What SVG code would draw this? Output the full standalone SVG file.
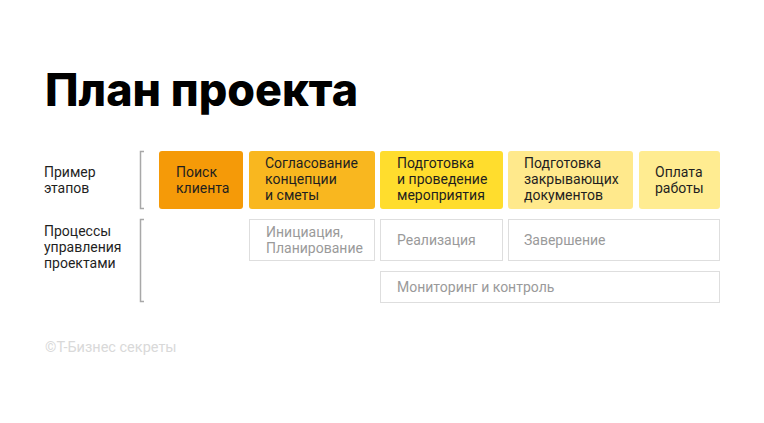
<svg xmlns="http://www.w3.org/2000/svg" width="764" height="423" viewBox="0 0 764 423">
<style>
.t{font-family:Roboto,"Liberation Sans",sans-serif;font-size:14px;fill:#1f1f1f}
.g{font-family:Roboto,"Liberation Sans",sans-serif;font-size:14px;fill:#9a9a9a}
.title{font-family:Inter,Roboto,"Liberation Sans",sans-serif;font-size:45px;font-weight:800;fill:#000}
.ob{fill:#fff;stroke:#dedede;stroke-width:1}
.br{fill:none;stroke:#a8a8a8;stroke-width:1.5}
</style>
<rect width="764" height="423" fill="#fff"/>
<text class="title" x="45" y="106" textLength="313" lengthAdjust="spacingAndGlyphs">План проекта</text>

<g id="label-stages">
<text class="t" x="44" y="177">Пример</text>
<text class="t" x="44" y="193">этапов</text>
</g>
<g id="label-processes">
<text class="t" x="44" y="236">Процессы</text>
<text class="t" x="44" y="252">управления</text>
<text class="t" x="44" y="268">проектами</text>
</g>

<g id="brackets">
<path class="br" d="M144 151.5 H140.5 V208.5 H144"/>
<path class="br" d="M144 219.5 H140.5 V301.5 H144"/>
</g>

<g id="stage-1">
<rect x="159" y="151" width="84" height="58" rx="3" fill="#F59A08"/>
<text class="t" x="176" y="177">Поиск</text>
<text class="t" x="176" y="193">клиента</text>
</g>
<g id="stage-2">
<rect x="249" y="151" width="126" height="58" rx="3" fill="#F9B71F"/>
<text class="t" x="265" y="168">Согласование</text>
<text class="t" x="265" y="184">концепции</text>
<text class="t" x="265" y="200">и сметы</text>
</g>
<g id="stage-3">
<rect x="380" y="151" width="123" height="58" rx="3" fill="#FFDD2D"/>
<text class="t" x="397" y="168">Подготовка</text>
<text class="t" x="397" y="184">и проведение</text>
<text class="t" x="397" y="200">мероприятия</text>
</g>
<g id="stage-4">
<rect x="508" y="151" width="125" height="58" rx="3" fill="#FFE98C"/>
<text class="t" x="524" y="168">Подготовка</text>
<text class="t" x="524" y="184">закрывающих</text>
<text class="t" x="524" y="200">документов</text>
</g>
<g id="stage-5">
<rect x="639" y="151" width="81" height="58" rx="3" fill="#FFEC91"/>
<text class="t" x="655" y="177">Оплата</text>
<text class="t" x="655" y="193">работы</text>
</g>

<g id="proc-init">
<rect class="ob" x="249.5" y="219.5" width="125" height="41"/>
<text class="g" x="266" y="237">Инициация,</text>
<text class="g" x="266" y="253">Планирование</text>
</g>
<g id="proc-impl">
<rect class="ob" x="380.5" y="219.5" width="122" height="41"/>
<text class="g" x="397" y="245">Реализация</text>
</g>
<g id="proc-close">
<rect class="ob" x="508.5" y="219.5" width="211" height="41"/>
<text class="g" x="524" y="245">Завершение</text>
</g>
<g id="proc-monitor">
<rect class="ob" x="380.5" y="271.5" width="339" height="31"/>
<text class="g" x="397" y="292">Мониторинг и контроль</text>
</g>

<text x="45" y="352" style="font-family:Roboto,'Liberation Sans',sans-serif;font-size:14.5px;fill:#d9d9d9">©Т-Бизнес секреты</text>
</svg>
